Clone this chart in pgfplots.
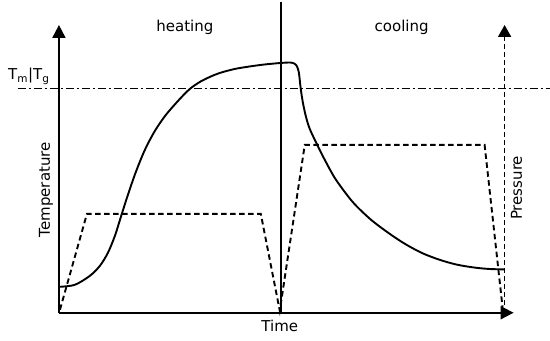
\documentclass[border=0pt]{standalone}
\usepackage{pgfplots}
\pgfplotsset{compat=1.18}
\usepackage{fontspec}
\setmainfont{DejaVu Sans}
\usetikzlibrary{arrows.meta}
\begin{document}
\begin{tikzpicture}
\begin{axis}[
  width=550pt, height=341pt, scale only axis,
  xmin=0, xmax=550, ymin=0, ymax=341, y dir=reverse,
  hide axis, clip=false,
]
% invisible frame so the picture covers the full area
\addplot[draw=none] coordinates {(0,0) (550,341)};
% axes
\addplot[line width=1.9pt, -{Triangle[length=13pt,width=13pt]}] coordinates {(59,313) (59,25)};
\addplot[line width=1.9pt, -{Triangle[length=13pt,width=13pt]}] coordinates {(59,313) (514,313)};
\addplot[line width=1.8pt, dash pattern=on 5pt off 3pt, -{Triangle[length=12pt,width=13pt]}] coordinates {(505,313) (505,25)};
% vertical divider
\addplot[line width=1.6pt] coordinates {(281,2) (281,313)};
% Tm|Tg line
\addplot[line width=0.9pt, dash pattern=on 8pt off 3pt on 2pt off 3pt] coordinates {(18,89) (550,89)};
% temperature curve (heating)
\addplot[line width=1.9pt, smooth, tension=0.5] coordinates {
(60,287) (75,285) (90,276) (100,266) (108,253) (115,236) (121,217) (128,195)
(136,172) (145,150) (155,131) (166,115) (180,99) (190,89) (200,82) (210,77)
(220,73) (235,69) (250,66.5) (265,64.5) (281,63) (290,62.5)};
% corner + cooling
\addplot[line width=1.9pt, smooth, tension=0.5] coordinates {
(290,62.5) (294,63.3) (297,66) (299,72) (300,80) (301,89) (303,102) (306,116)
(310,129) (318,146) (324,158) (335,178) (348,196) (357,206.5) (372,220.5) (390,234)
(406,244.5) (423,253.5) (440,260) (457,264.8) (475,267.8) (490,269.2) (505,269.6)};
% pressure
\addplot[line width=1.9pt, dash pattern=on 5.5pt off 3.5pt] coordinates {
(60,310) (87,214) (261,214) (280,311) (305,145) (485,145) (503,308)};
% labels
\node[font=\fontsize{15}{18}\selectfont] at (axis cs:185,27) {heating};
\node[font=\fontsize{15}{18}\selectfont] at (axis cs:402,27) {cooling};
\node[font=\fontsize{15}{18}\selectfont] at (axis cs:280,326) {Time};
\node[font=\fontsize{15}{18}\selectfont, rotate=90] at (axis cs:46,190) {Temperature};
\node[font=\fontsize{15}{18}\selectfont, rotate=90] at (axis cs:517,188) {Pressure};
\node[font=\fontsize{15}{18}\selectfont, anchor=base west, inner sep=0pt] at (axis cs:8,80) {T\textsubscript{m}|T\textsubscript{g}};
\end{axis}
\end{tikzpicture}
\end{document}
